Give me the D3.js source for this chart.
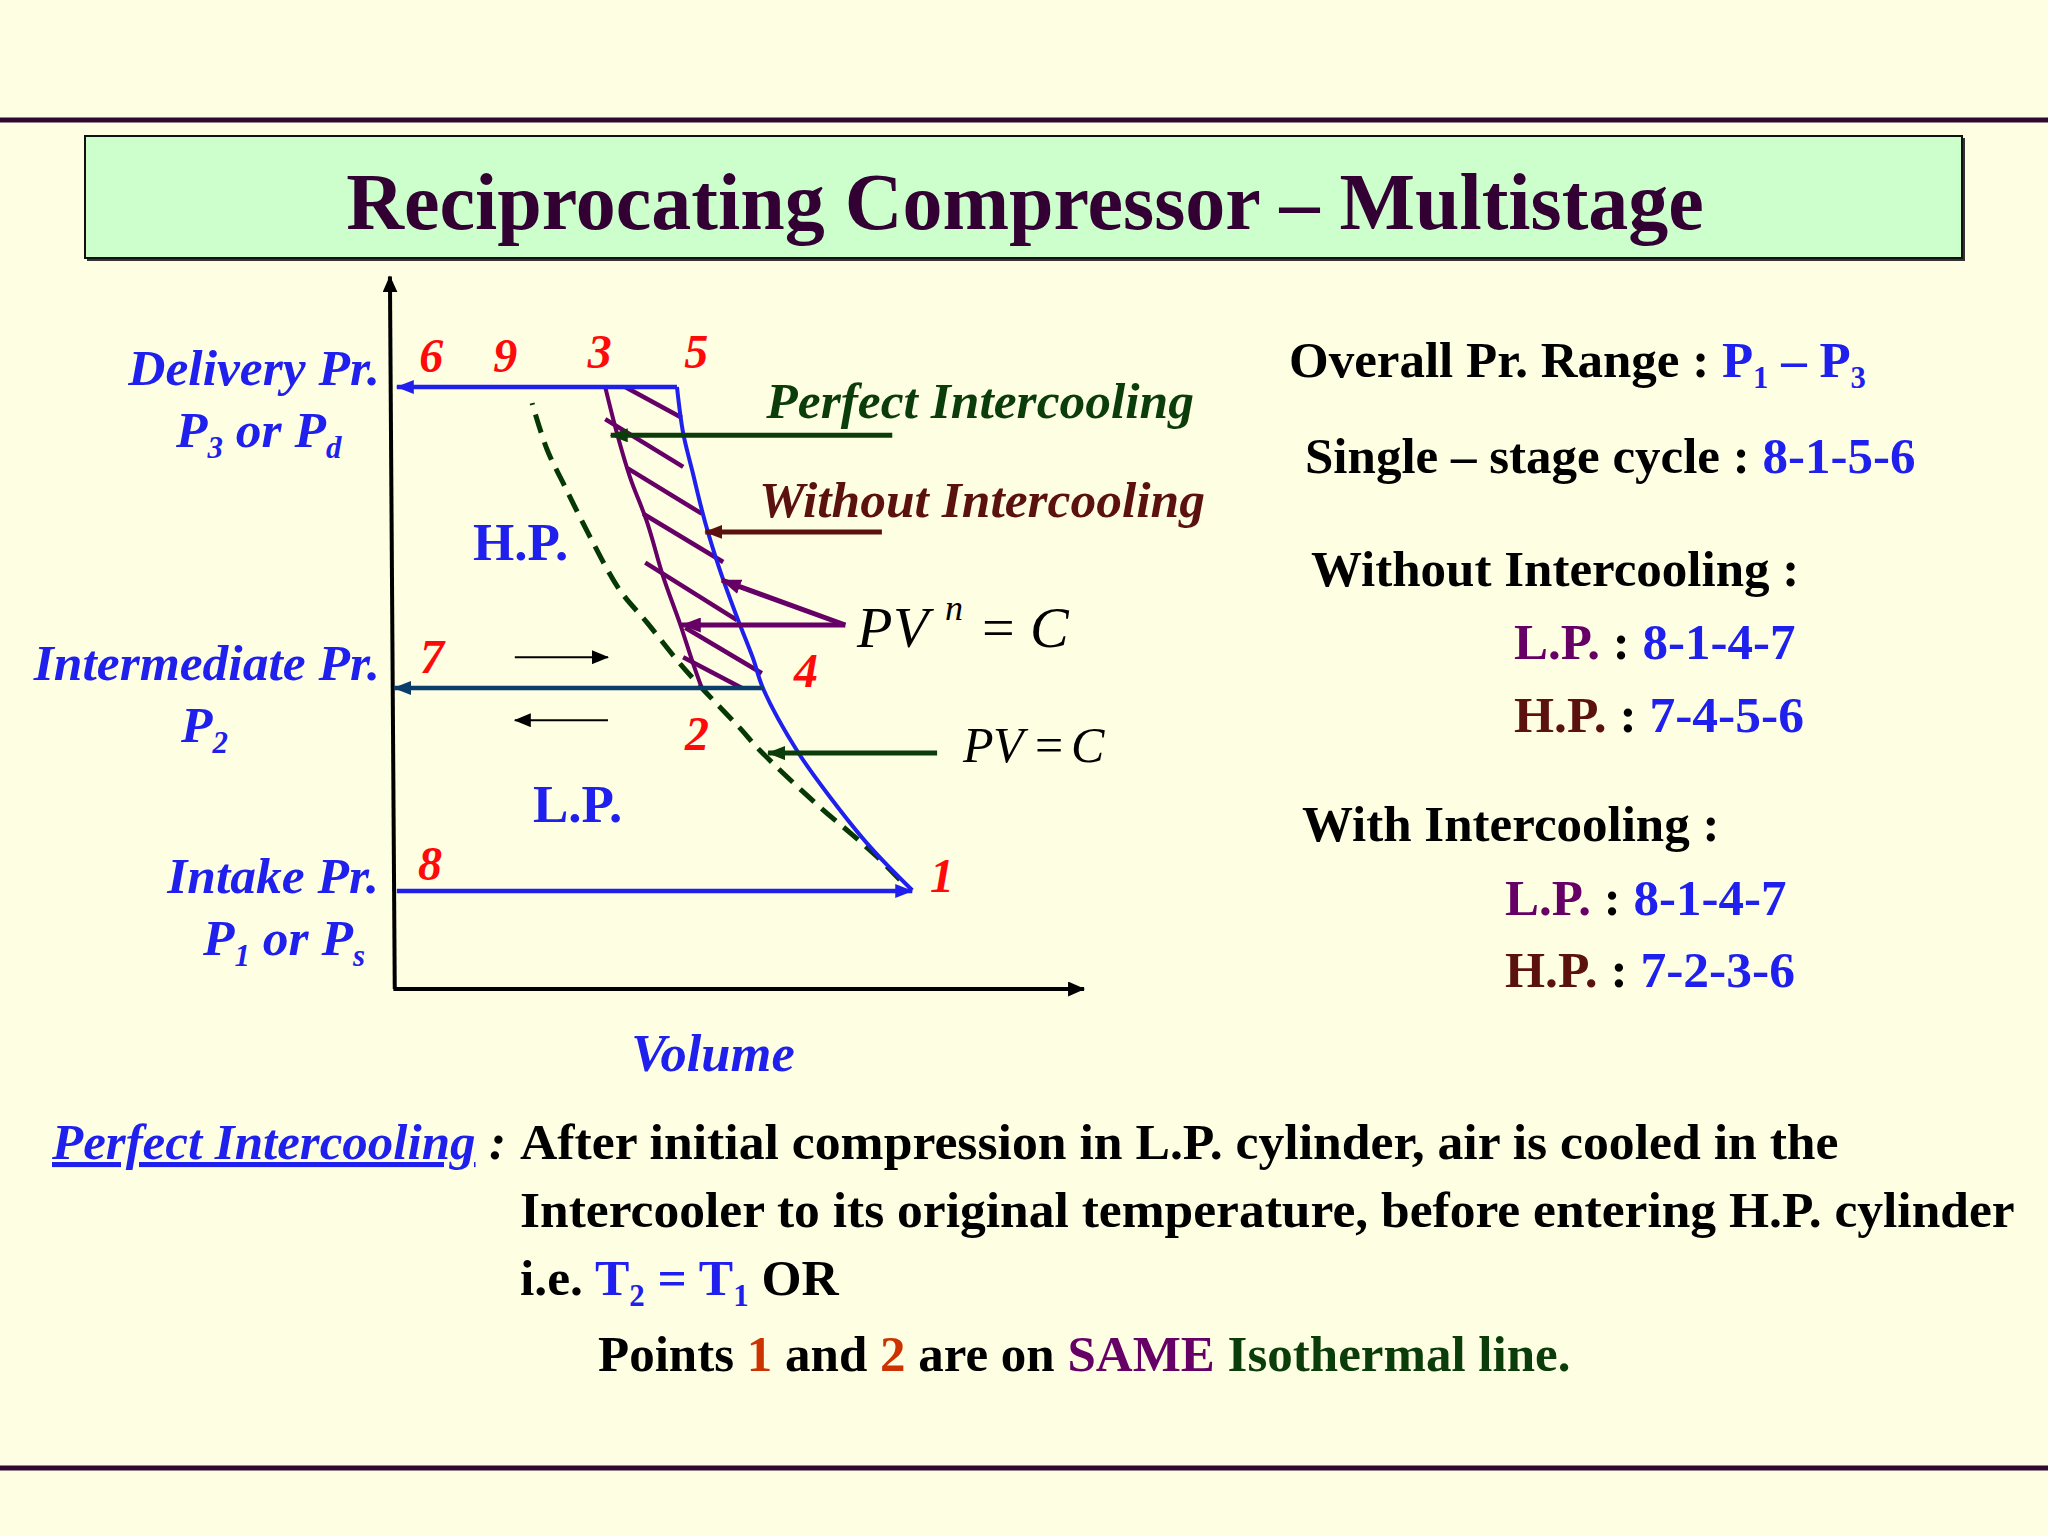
<!DOCTYPE html>
<html lang="en">
<head>
<meta charset="UTF-8">
<title>Reciprocating Compressor – Multistage</title>
<script src="https://d3js.org/d3.v7.min.js"></script>
<style>
  body { margin: 0; background: #fefee2; }
  svg { display: block; font-family: "Liberation Serif", "Times New Roman", serif; }
</style>
</head>
<body>
<svg id="slide" width="2048" height="1536"></svg>
<script>
// ---- data (volume / pressure in arbitrary units, 0-100) ----
const pressureNames = ['P1', 'P2', 'P3'];
const pressureValues = [14, 43, 86];

// state point labels and where they sit
const stateNames = ['1', '2', '3', '4', '5', '6', '7', '8', '9'];
const labelV = [79.7, 44.2, 30.1, 60.0, 44.1, 5.7, 5.8, 5.5, 16.4];
const labelP = [13.9, 34.1, 88.7, 43.1, 88.7, 88.1, 45.1, 15.6, 88.1];

// horizontal process lines: delivery 5-6, intermediate 4-7, intake 8-1
const deliveryV = [41.3, 0.7];
const intermediateV = [53.8, 0.3];
const intakeV = [0.7, 75.4];

// single stage polytropic compression 1-4-5 (PV^n = C)
const polyV = [75.4, 69.3, 63.5, 58.8, 53.8, 52.3, 50.0, 47.5, 45.4, 43.5, 42.2, 41.3];
const polyP = [14.1, 20.3, 27.4, 33.9, 42.9, 47.3, 53.1, 59.9, 66.6, 74.1, 79.4, 86.0];

// H.P. compression after perfect intercooling 2-3
const hpV = [44.9, 43.6, 41.7, 39.3, 37.0, 34.5, 32.6, 30.9];
const hpP = [43.0, 46.6, 52.3, 58.9, 66.6, 73.1, 79.4, 86.0];

// isothermal 1-2-9 (PV = C)
const isoV = [73.6, 70.3, 66.4, 62.0, 53.3, 50.4, 44.9, 41.3, 37.0, 33.0, 28.7, 24.8, 22.5, 20.3];
const isoP = [15.6, 18.9, 22.3, 26.0, 34.1, 37.3, 43.0, 47.0, 52.3, 57.0, 64.6, 72.3, 77.0, 83.7];

// hatching (work saved) segments
const hatchV1 = [33.8, 30.9, 34.1, 36.4, 36.7, 42.5, 42.2];
const hatchP1 = [86.0, 81.4, 74.4, 67.9, 60.9, 51.6, 47.4];
const hatchV2 = [42.0, 42.2, 44.9, 48.0, 50.0, 53.6, 50.7];
const hatchP2 = [81.6, 74.6, 67.9, 61.0, 52.7, 45.1, 43.0];

// call-out pointers [fromV, fromP, toV, toP]
const pointerPerfect = [72.5, 79.1, 31.7, 79.1];
const pointerWithout = [71.0, 65.3, 45.4, 65.3];
const pointerPolyA = [65.7, 52.0, 47.8, 58.4];
const pointerPolyB = [65.7, 52.0, 42.0, 52.0];
const pointerIso = [79.0, 33.7, 54.5, 33.7];
const strokeRight = [17.8, 31.3, 47.4];
const strokeLeft = [31.3, 17.8, 38.4];

const svg = d3.select('#slide');
const x = d3.scaleLinear([0, 100], [392, 1082]);
const y = d3.scaleLinear([0, 100], [989, 289]);

const BLUE = '#2020ee', PURPLE = '#660066', MAROON = '#5c1111', DKGREEN = '#0b3d0b', RED = '#ff0a0a';

svg.append('rect').attr('width', 2048).attr('height', 1536).attr('fill', '#fefee2');

// arrow markers
const defs = svg.append('defs');
function marker(id, color, len, wid) {
  defs.append('marker')
    .attr('id', id)
    .attr('markerUnits', 'userSpaceOnUse')
    .attr('viewBox', `0 0 ${len} ${wid}`)
    .attr('refX', len - 1).attr('refY', wid / 2)
    .attr('markerWidth', len).attr('markerHeight', wid)
    .attr('orient', 'auto')
    .append('path')
    .attr('d', `M0,0L${len},${wid / 2}L0,${wid}Z`)
    .attr('fill', color);
}
marker('arBlack', '#000', 17, 15);
marker('arSmall', '#000', 17, 14);
marker('arBlue', BLUE, 18, 14);
marker('arNavy', '#0a3d6b', 18, 14);
marker('arGreen', DKGREEN, 18, 14);
marker('arMaroon', MAROON, 18, 14);
marker('arPurple', PURPLE, 20, 15);

// slide frame lines
svg.append('line').attr('x1', 0).attr('x2', 2048).attr('y1', 120).attr('y2', 120)
  .attr('stroke', '#2e0a33').attr('stroke-width', 5);
svg.append('line').attr('x1', 0).attr('x2', 2048).attr('y1', 1468).attr('y2', 1468)
  .attr('stroke', '#2e0a33').attr('stroke-width', 5);

// title box
svg.append('rect').attr('x', 87).attr('y', 138).attr('width', 1878).attr('height', 123).attr('fill', '#333');
svg.append('rect').attr('x', 85).attr('y', 136).attr('width', 1877).attr('height', 122)
  .attr('fill', '#ccffcc').attr('stroke', '#111').attr('stroke-width', 2);
svg.append('text').attr('x', 1025).attr('y', 229).attr('text-anchor', 'middle')
  .attr('font-size', 80).attr('font-weight', 'bold').attr('fill', '#330033')
  .text('Reciprocating Compressor – Multistage');

// ---- p-V diagram ----
const g = svg.append('g');
const line = d3.line().x(d => x(d[0])).y(d => y(d[1]));
const smooth = d3.line().x(d => x(d[0])).y(d => y(d[1])).curve(d3.curveCatmullRom.alpha(0.5));

// axes
g.append('path').attr('d', line([[0.4, 0], [-0.3, 101.8]]))
  .attr('stroke', '#000').attr('stroke-width', 4).attr('fill', 'none').attr('marker-end', 'url(#arBlack)');
g.append('path').attr('d', line([[0.2, 0], [100.3, 0]]))
  .attr('stroke', '#000').attr('stroke-width', 4).attr('fill', 'none').attr('marker-end', 'url(#arBlack)');

// hatching
g.selectAll('.hatch').data(hatchV1).join('path').attr('class', 'hatch')
  .attr('d', (d, i) => line([[hatchV1[i], hatchP1[i]], [hatchV2[i], hatchP2[i]]]))
  .attr('stroke', PURPLE).attr('stroke-width', 4.5).attr('fill', 'none');

// isotherm
g.append('path').attr('d', smooth(d3.zip(isoV, isoP)))
  .attr('stroke', '#053805').attr('stroke-width', 5).attr('fill', 'none')
  .attr('stroke-dasharray', '19,10');

// H.P. compression curve
g.append('path').attr('d', smooth(d3.zip(hpV, hpP)))
  .attr('stroke', PURPLE).attr('stroke-width', 4).attr('fill', 'none');

// single-stage polytropic
g.append('path').attr('d', smooth(d3.zip(polyV, polyP)))
  .attr('stroke', BLUE).attr('stroke-width', 4).attr('fill', 'none');

// process lines
g.append('path').attr('d', line(deliveryV.map(v => [v, pressureValues[2]])))
  .attr('stroke', BLUE).attr('stroke-width', 4.5).attr('fill', 'none').attr('marker-end', 'url(#arBlue)');
g.append('path').attr('d', line(intermediateV.map(v => [v, pressureValues[1]])))
  .attr('stroke', '#0a3d6b').attr('stroke-width', 4.5).attr('fill', 'none').attr('marker-end', 'url(#arNavy)');
g.append('path').attr('d', line(intakeV.map(v => [v, pressureValues[0]])))
  .attr('stroke', BLUE).attr('stroke-width', 4.5).attr('fill', 'none').attr('marker-end', 'url(#arBlue)');

// direction strokes
[strokeRight, strokeLeft].forEach(s => {
  g.append('path').attr('d', line([[s[0], s[2]], [s[1], s[2]]]))
    .attr('stroke', '#000').attr('stroke-width', 2).attr('fill', 'none').attr('marker-end', 'url(#arSmall)');
});

// pointers
function pointer(p, color, mk, w) {
  g.append('path').attr('d', line([[p[0], p[1]], [p[2], p[3]]]))
    .attr('stroke', color).attr('stroke-width', w).attr('fill', 'none').attr('marker-end', `url(#${mk})`);
}
pointer(pointerPerfect, DKGREEN, 'arGreen', 5);
pointer(pointerWithout, MAROON, 'arMaroon', 5);
pointer(pointerPolyA, PURPLE, 'arPurple', 5);
pointer(pointerPolyB, PURPLE, 'arPurple', 5);
pointer(pointerIso, DKGREEN, 'arGreen', 5);

// state numbers
g.selectAll('.state').data(stateNames).join('text').attr('class', 'state')
  .attr('x', (d, i) => x(labelV[i])).attr('y', (d, i) => y(labelP[i]))
  .attr('text-anchor', 'middle').attr('font-size', 48).attr('font-weight', 'bold')
  .attr('font-style', 'italic').attr('fill', RED).text(d => d);

// rich text helper: parts = [text, colour, 'sub'?]
function rich(x0, y0, parts, o = {}) {
  const size = o.size || 51.5;
  const t = svg.append('text').attr('x', x0).attr('y', y0).attr('font-size', size)
    .attr('font-weight', o.weight || 'bold').attr('font-style', o.italic ? 'italic' : 'normal')
    .attr('text-anchor', o.anchor || 'start');
  let shift = 0;
  parts.forEach(([s, c, kind]) => {
    const sp = t.append('tspan').text(s).attr('fill', c);
    if (kind === 'sub') {
      const d = size * 0.22;
      sp.attr('font-size', size * 0.6).attr('dy', d - shift);
      shift = d;
    } else if (shift) {
      sp.attr('dy', -shift);
      shift = 0;
    }
    if (kind === 'u') sp.attr('text-decoration', 'underline');
  });
  return t;
}

// pressure labels
const it = { italic: true };
rich(380, 385, [['Delivery Pr.', BLUE]], { italic: true, anchor: 'end' });
rich(176, 447, [['P', BLUE], ['3', BLUE, 'sub'], [' or P', BLUE], ['d', BLUE, 'sub']], it);
rich(380, 680, [['Intermediate Pr.', BLUE]], { italic: true, anchor: 'end' });
rich(181, 742, [['P', BLUE], ['2', BLUE, 'sub']], it);
rich(379, 893, [['Intake Pr.', BLUE]], { italic: true, anchor: 'end' });
rich(203, 955, [['P', BLUE], ['1', BLUE, 'sub'], [' or P', BLUE], ['s', BLUE, 'sub']], it);
rich(713, 1071, [['Volume', BLUE]], { italic: true, anchor: 'middle', size: 52.5 });
rich(473, 560, [['H.P.', BLUE]], { size: 53 });
rich(533, 822, [['L.P.', BLUE]], { size: 53 });

// call-out captions
rich(1194, 418, [['Perfect Intercooling', DKGREEN]], { italic: true, anchor: 'end' });
rich(1205, 517, [['Without Intercooling', MAROON]], { italic: true, anchor: 'end' });

// equations
const eq = (s, xx, yy, size, ital) => svg.append('text').attr('x', xx).attr('y', yy)
  .attr('font-size', size).attr('font-style', ital ? 'italic' : 'normal').attr('fill', '#000').text(s);
eq('P', 857, 647, 58, true);
eq('V', 893, 647, 58, true);
eq('n', 945, 620, 36, true);
eq('=', 982, 647, 58, false);
eq('C', 1030, 647, 58, true);
eq('P', 963, 762, 50, true);
eq('V', 993, 762, 50, true);
eq('=', 1035, 762, 50, false);
eq('C', 1071, 762, 50, true);

// right-hand notes
const K = '#000';
rich(1289, 377, [['Overall Pr. Range : ', K], ['P', BLUE], ['1', BLUE, 'sub'], [' – P', BLUE], ['3', BLUE, 'sub']], { size: 51 });
rich(1305, 473, [['Single – stage cycle : ', K], ['8-1-5-6', BLUE]], { size: 51 });
rich(1311, 586, [['Without Intercooling :', K]], { size: 51 });
rich(1514, 659, [['L.P.', PURPLE], [' : ', K], ['8-1-4-7', BLUE]], { size: 51 });
rich(1514, 732, [['H.P.', MAROON], [' : ', K], ['7-4-5-6', BLUE]], { size: 51.5 });
rich(1302, 841, [['With Intercooling :', K]], { size: 51 });
rich(1505, 915, [['L.P.', PURPLE], [' : ', K], ['8-1-4-7', BLUE]], { size: 51 });
rich(1505, 987, [['H.P.', MAROON], [' : ', K], ['7-2-3-6', BLUE]], { size: 51.5 });

// bottom explanation
rich(52, 1159, [['Perfect Intercooling', BLUE, 'u']], { italic: true, size: 51 });
rich(489, 1159, [[':', K]], { italic: true });
rich(520, 1159, [['After initial compression in L.P. cylinder, air is cooled in the', K]], { size: 51.7 });
rich(520, 1227, [['Intercooler to its original temperature, before entering H.P. cylinder', K]], { size: 51.5 });
rich(520, 1295, [['i.e. ', K], ['T', BLUE], ['2', BLUE, 'sub'], [' = T', BLUE], ['1', BLUE, 'sub'], [' OR', K]]);
rich(598, 1371, [['Points ', K], ['1', '#cc3300'], [' and ', K], ['2', '#cc3300'], [' are on ', K], ['SAME', PURPLE], [' Isothermal line.', DKGREEN]], { size: 51 });
</script>
</body>
</html>
